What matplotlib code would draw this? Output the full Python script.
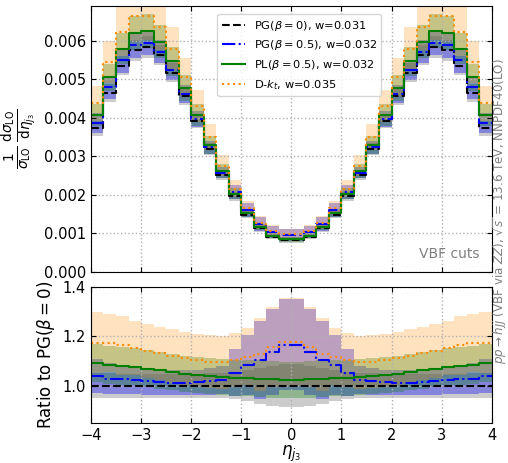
import numpy as np
import matplotlib.pyplot as plt
from matplotlib.ticker import FormatStrFormatter

# bin edges in eta_j3 (32 bins of width 0.25)
edges = np.arange(-4, 4.01, 0.25)

# PG(beta=0) normalised distribution (x 1e-3)
pg0 = np.array([3.72, 4.65, 5.35, 5.75, 5.83, 5.62, 5.17, 4.55, 3.91, 3.18, 2.52, 1.96, 1.49, 1.13, 0.92, 0.83,
                0.83, 0.92, 1.13, 1.49, 1.96, 2.52, 3.18, 3.91, 4.55, 5.17, 5.62, 5.83, 5.75, 5.35, 4.65, 3.72]) * 1e-3

# ratios to PG(beta=0)
pg05_ratio = np.array([1.040, 1.029, 1.026, 1.022, 1.018, 1.015, 1.012, 1.012, 1.015, 1.018, 1.023, 1.054, 1.084, 1.106, 1.136, 1.166,
                       1.166, 1.136, 1.106, 1.084, 1.054, 1.023, 1.018, 1.015, 1.012, 1.012, 1.015, 1.018, 1.022, 1.026, 1.029, 1.040])
pl05_ratio = np.array([1.092, 1.085, 1.081, 1.077, 1.070, 1.063, 1.056, 1.048, 1.043, 1.038, 1.036, 1.033, 1.031, 1.029, 1.026, 1.024,
                       1.024, 1.026, 1.029, 1.031, 1.033, 1.036, 1.038, 1.043, 1.048, 1.056, 1.063, 1.070, 1.077, 1.081, 1.085, 1.092])
dkt_ratio = np.array([1.175, 1.173, 1.164, 1.153, 1.140, 1.132, 1.120, 1.111, 1.103, 1.098, 1.095, 1.104, 1.118, 1.128, 1.158, 1.178,
                      1.178, 1.158, 1.128, 1.118, 1.104, 1.095, 1.098, 1.103, 1.111, 1.120, 1.132, 1.140, 1.153, 1.164, 1.173, 1.175])

# relative uncertainties (band half widths)
pg0_rel = np.array([0.050, 0.050, 0.048, 0.047, 0.047, 0.047, 0.047, 0.048, 0.048, 0.050, 0.050, 0.055, 0.063, 0.072, 0.080, 0.087,
                    0.087, 0.080, 0.072, 0.063, 0.055, 0.050, 0.050, 0.048, 0.048, 0.047, 0.047, 0.047, 0.047, 0.048, 0.050, 0.050])
pg05_rel = np.array([0.066, 0.062, 0.058, 0.055, 0.053, 0.052, 0.050, 0.050, 0.050, 0.052, 0.055, 0.090, 0.112, 0.142, 0.153, 0.157,
                     0.157, 0.153, 0.142, 0.112, 0.090, 0.055, 0.052, 0.050, 0.050, 0.050, 0.052, 0.053, 0.055, 0.058, 0.062, 0.066])
pl05_rel = np.array([0.070, 0.070, 0.070, 0.070, 0.070, 0.070, 0.070, 0.070, 0.070, 0.070, 0.070, 0.071, 0.071, 0.072, 0.072, 0.072,
                     0.072, 0.072, 0.072, 0.071, 0.071, 0.070, 0.070, 0.070, 0.070, 0.070, 0.070, 0.070, 0.070, 0.070, 0.070, 0.070])
dkt_rel = np.array([0.104, 0.100, 0.102, 0.095, 0.096, 0.094, 0.098, 0.095, 0.096, 0.097, 0.098, 0.098, 0.102, 0.131, 0.140, 0.150,
                    0.150, 0.140, 0.131, 0.102, 0.098, 0.098, 0.097, 0.096, 0.095, 0.098, 0.094, 0.096, 0.095, 0.102, 0.100, 0.104])

labels = [r'PG($\beta=0$), w=0.031', r'PG($\beta=0.5$), w=0.032',
          r'PL($\beta=0.5$), w=0.032', r'D-$k_t$, w=0.035']

series = [
    (np.ones(32), pg0_rel, 'k', '--', 0.2),
    (pg05_ratio, pg05_rel, 'b', '-.', 0.35),
    (pl05_ratio, pl05_rel, 'green', '-', 0.3),
    (dkt_ratio, dkt_rel, 'darkorange', ':', 0.25),
]


def ext(y):
    return np.append(y, y[-1])


fig = plt.figure(figsize=(5.08, 4.63), dpi=100)
ax1 = fig.add_axes([0.179, 0.4125, 0.789, 0.575])
ax2 = fig.add_axes([0.179, 0.0864, 0.789, 0.294])

# bands first
for ratio, rel, col, ls, al in series:
    top = pg0 * ratio
    ax1.fill_between(edges, ext(top * (1 - rel)), ext(top * (1 + rel)), step='post',
                     color=col, alpha=al, lw=0)
    ax2.fill_between(edges, ext(ratio * (1 - rel)), ext(ratio * (1 + rel)), step='post',
                     color=col, alpha=al, lw=0)

# then lines
for (ratio, rel, col, ls, al), lab in zip(series, labels):
    ax1.step(edges, ext(pg0 * ratio), where='post', color=col, ls=ls, lw=1.5, label=lab)
    ax2.step(edges, ext(ratio), where='post', color=col, ls=ls, lw=1.5)

for ax in (ax1, ax2):
    ax.set_xlim(-4, 4)
    ax.set_xticks(np.arange(-4, 5, 1))
    ax.grid(ls=':', color='#b0b0b0', lw=1)
    ax.tick_params(direction='in', top=True, right=True, labelsize=10.5)

ax1.set_ylim(0, 0.0069)
ax1.set_yticks(np.arange(0, 0.0061, 0.001))
ax1.yaxis.set_major_formatter(FormatStrFormatter('%.3f'))
ax1.tick_params(labelbottom=False)
ax1.set_ylabel(r'$\frac{1}{\sigma_{\rm LO}}\,\frac{\mathrm{d}\sigma_{\rm LO}}{\mathrm{d}\eta_{j_3}}$', fontsize=14)
ax1.legend(loc='upper center', bbox_to_anchor=(0.52, 0.99), fontsize=8.2)
ax1.text(0.97, 0.04, 'VBF cuts', transform=ax1.transAxes, ha='right', va='bottom',
         color='gray', fontsize=10)

ax2.set_ylim(0.85, 1.4)
ax2.set_yticks([1.0, 1.2, 1.4])
ax2.yaxis.set_major_formatter(FormatStrFormatter('%.1f'))
ax2.set_ylabel(r'Ratio to PG($\beta=0$)', fontsize=12)
ax2.set_xlabel(r'$\eta_{j_3}$', fontsize=12, labelpad=1)

fig.text(0.984, 0.545, r'$pp\to hjj$ (VBF via $ZZ$), $\sqrt{s}$ = 13.6 TeV, NNPDF40(LO)',
         rotation=90, ha='center', va='center', color='gray', fontsize=8.6)

fig.savefig('out.png', dpi=100)
